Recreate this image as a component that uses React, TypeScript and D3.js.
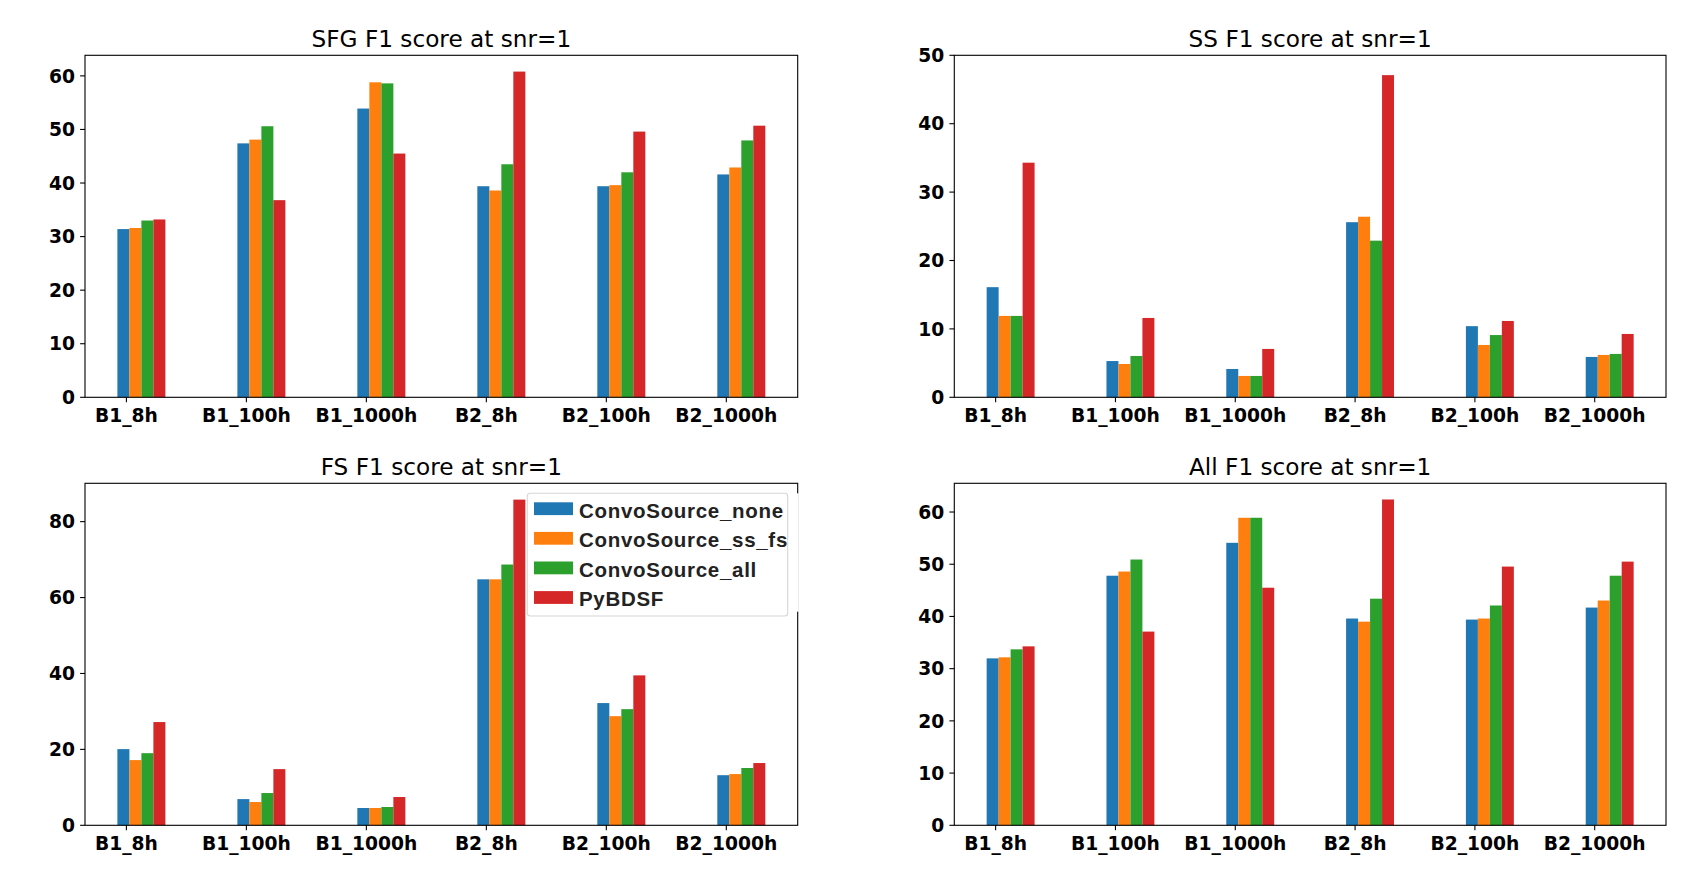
import React from 'react';
import * as d3 from 'd3';

const categories = ['B1_8h', 'B1_100h', 'B1_1000h', 'B2_8h', 'B2_100h', 'B2_1000h'];
const seriesNames = ['ConvoSource_none', 'ConvoSource_ss_fs', 'ConvoSource_all', 'PyBDSF'];
const seriesColors = ['#1f77b4', '#ff7f0e', '#2ca02c', '#d62728'];

// SFG F1 score
const sfgNone = [31.4, 47.4, 53.9, 39.4, 39.4, 41.6];
const sfgSsFs = [31.6, 48.1, 58.8, 38.6, 39.6, 42.9];
const sfgAll = [33.0, 50.6, 58.6, 43.5, 42.0, 47.95];
const sfgPy = [33.2, 36.8, 45.5, 60.8, 49.6, 50.7];

// SS F1 score
const ssNone = [16.1, 5.3, 4.14, 25.6, 10.4, 5.9];
const ssSsFs = [11.9, 4.87, 3.12, 26.4, 7.65, 6.19];
const ssAll = [11.9, 6.04, 3.12, 22.9, 9.1, 6.34];
const ssPy = [34.3, 11.6, 7.07, 47.1, 11.16, 9.26];

// FS F1 score
const fsNone = [20.07, 6.9, 4.56, 64.8, 32.2, 13.2];
const fsSsFs = [17.18, 6.13, 4.56, 64.8, 28.75, 13.5];
const fsAll = [19.0, 8.5, 4.82, 68.7, 30.6, 15.1];
const fsPy = [27.2, 14.8, 7.45, 85.8, 39.5, 16.4];

// All F1 score
const allNone = [31.97, 47.8, 54.1, 39.6, 39.4, 41.7];
const allSsFs = [32.17, 48.6, 58.9, 39.0, 39.6, 43.05];
const allAll = [33.7, 50.9, 58.9, 43.4, 42.1, 47.8];
const allPy = [34.27, 37.1, 45.5, 62.4, 49.55, 50.5];

const panelTitles = ['SFG F1 score at snr=1', 'SS F1 score at snr=1', 'FS F1 score at snr=1', 'All F1 score at snr=1'];
const panelYMax = [63.84, 50, 90.1, 65.5];
const panelTickStep = [10, 10, 20, 10];
const panelData = [
  [sfgNone, sfgSsFs, sfgAll, sfgPy],
  [ssNone, ssSsFs, ssAll, ssPy],
  [fsNone, fsSsFs, fsAll, fsPy],
  [allNone, allSsFs, allAll, allPy],
];

const W = 1700;
const H = 874;
const colX = [[85, 797.7], [954.3, 1666]];
const rowY = [[55.3, 397.3], [483.3, 825.3]];
const barW = 0.1;
const barStart = -0.075;

const tickFont = "'DejaVu Sans', sans-serif";

function Panel({ idx }: { idx: number }) {
  const [x0, x1] = colX[idx % 2];
  const [y0, y1] = rowY[Math.floor(idx / 2)];
  const x = d3.scaleLinear().domain([-0.345, 5.595]).range([x0, x1]);
  const y = d3.scaleLinear().domain([0, panelYMax[idx]]).range([y1, y0]);
  const ticks = d3.range(0, panelYMax[idx] + 1e-6, panelTickStep[idx]);
  const data = panelData[idx];
  return (
    <g>
      {data.map((vals, si) =>
        vals.map((v, ci) => {
          const xa = x(ci + barStart + si * barW);
          const xb = x(ci + barStart + (si + 1) * barW);
          return (
            <rect key={`${si}-${ci}`} x={xa} y={y(v)} width={xb - xa} height={y(0) - y(v)} fill={seriesColors[si]} />
          );
        })
      )}
      <rect x={x0} y={y0} width={x1 - x0} height={y1 - y0} fill="none" stroke="#000" strokeWidth={1.1} />
      {ticks.map((t) => (
        <g key={t}>
          <line x1={x0 - 4.9} x2={x0} y1={y(t)} y2={y(t)} stroke="#000" strokeWidth={1.1} />
          <text x={x0 - 10} y={y(t)} dy="0.36em" textAnchor="end" fontFamily={tickFont} fontWeight="bold" fontSize={18.7}>
            {t}
          </text>
        </g>
      ))}
      {categories.map((c, ci) => (
        <g key={c}>
          <line x1={x(ci)} x2={x(ci)} y1={y1} y2={y1 + 4.9} stroke="#000" strokeWidth={1.1} />
          <text x={x(ci)} y={y1 + 25} textAnchor="middle" fontFamily={tickFont} fontWeight="bold" fontSize={18.7}>
            {c}
          </text>
        </g>
      ))}
      <text x={(x0 + x1) / 2} y={y0 - 8.5} textAnchor="middle" fontFamily={tickFont} fontSize={23.2}>
        {panelTitles[idx]}
      </text>
    </g>
  );
}

function Legend() {
  const lx = 527.3;
  const ly = 493.3;
  const step = 29.6;
  return (
    <g>
      <line x1={797.7} x2={797.7} y1={493.3} y2={611.7} stroke="#fff" strokeWidth={2} />
      <rect x={lx} y={ly} width={260.4} height={122.7} rx={3} fill="#fff" fillOpacity={0.8} stroke="#d6d6d6" strokeWidth={1.1} />
      {seriesNames.map((s, i) => (
        <g key={s}>
          <rect x={534} y={502.3 + i * step} width={39} height={12.8} fill={seriesColors[i]} />
          <text
            x={579}
            y={517.6 + i * step}
            fontFamily="'Liberation Sans', Arial, sans-serif"
            fontWeight="bold"
            fontSize={20.5}
            letterSpacing={0.7}
            fill="#222"
          >
            {s}
          </text>
        </g>
      ))}
    </g>
  );
}

export default function App() {
  return (
    <svg width={W} height={H} style={{ position: 'absolute', left: 0, top: 0, background: '#fff' }}>
      <rect x={0} y={0} width={W} height={H} fill="#fff" />
      {[0, 1, 2, 3].map((i) => (
        <Panel key={i} idx={i} />
      ))}
      <Legend />
    </svg>
  );
}
